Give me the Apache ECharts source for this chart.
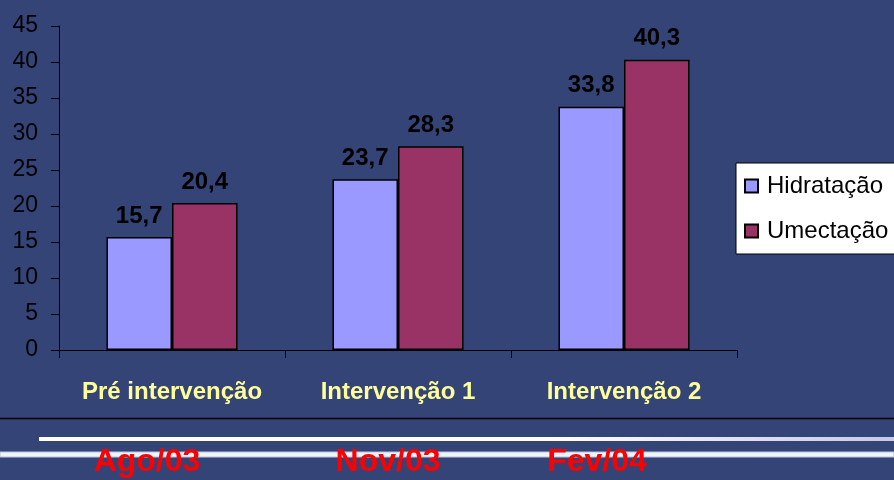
<!DOCTYPE html>
<html><head><meta charset="utf-8">
<script src="https://cdn.jsdelivr.net/npm/echarts@6/dist/echarts.min.js"></script>
<style>html,body{margin:0;padding:0;background:#344477;}#c{width:894px;height:480px;}</style>
</head><body><div id="c"></div>
<script>
var categories = ['Pré intervenção', 'Intervenção 1', 'Intervenção 2'];
var periods = ['Ago/03', 'Nov/03', 'Fev/04'];
var hidratacao = [15.7, 23.7, 33.8];
var umectacao = [20.4, 28.3, 40.3];
var seriesNames = ['Hidratação', 'Umectação'];

var FONT = 'Liberation Sans, Arial, sans-serif';
var chart = echarts.init(document.getElementById('c'));
var labelCfg = {
  show: true, position: 'top', distance: 9,
  color: '#000', fontFamily: FONT, fontWeight: 'bold', fontSize: 24,
  formatter: function (p) { return p.value.toFixed(1).replace('.', ','); }
};
var periodX = [147, 388, 597];
var gfx = [
  { type: 'line', shape: { x1: 0, y1: 418.5, x2: 894, y2: 418.5 }, style: { stroke: '#000', lineWidth: 1.5 } },
  { type: 'rect', shape: { x: 39, y: 437, width: 855, height: 4 },
    style: { fill: new echarts.graphic.LinearGradient(0, 0, 1, 0, [{ offset: 0, color: '#ffffff' }, { offset: 0.6, color: '#ffffff' }, { offset: 1, color: '#c8c8e6' }]) } },
  { type: 'rect', shape: { x: 0, y: 452, width: 894, height: 5 },
    style: { fill: '#eef4f8', stroke: '#b8c4dc', lineWidth: 1 } }
];
periods.forEach(function (t, i) {
  gfx.push({ type: 'text', x: periodX[i], y: 478, style: { text: t, fill: '#ff0000', fontFamily: FONT, fontWeight: 'bold', fontSize: 32, textAlign: 'center', textVerticalAlign: 'bottom' } });
});

chart.setOption({
  backgroundColor: '#344477',
  animation: false,
  grid: { left: 59, right: 157, top: 26, bottom: 130 },
  legend: {
    orient: 'vertical', left: 736, top: 163,
    backgroundColor: '#ffffff', borderColor: '#000', borderWidth: 1,
    padding: [11, 80, 11, 8], itemGap: 21, itemWidth: 13, itemHeight: 13,
    icon: 'rect',
    textStyle: { color: '#000', fontSize: 24, fontFamily: FONT, padding: [0, 0, 0, 4] },
    data: seriesNames
  },
  xAxis: {
    type: 'category', data: categories,
    axisLine: { lineStyle: { color: '#000', width: 1 } },
    axisTick: { show: true, length: 8, lineStyle: { color: '#000' } },
    axisLabel: { interval: 0, hideOverlap: false, color: '#ffff99', fontWeight: 'bold', fontSize: 24, fontFamily: FONT, margin: 30 }
  },
  yAxis: {
    type: 'value', min: 0, max: 45, interval: 5,
    axisLine: { show: true, lineStyle: { color: '#000', width: 1 } },
    axisTick: { show: true, length: 8, lineStyle: { color: '#000' } },
    splitLine: { show: false },
    axisLabel: { color: '#000', fontSize: 23, fontFamily: FONT, margin: 21 }
  },
  series: [
    { name: seriesNames[0], type: 'bar', data: hidratacao, barGap: '0%', barCategoryGap: '42%',
      itemStyle: { color: '#9999ff', borderColor: '#000', borderWidth: 1.5 }, label: labelCfg },
    { name: seriesNames[1], type: 'bar', data: umectacao,
      itemStyle: { color: '#993366', borderColor: '#000', borderWidth: 1.5 }, label: labelCfg }
  ],
  graphic: gfx
});
</script></body></html>
